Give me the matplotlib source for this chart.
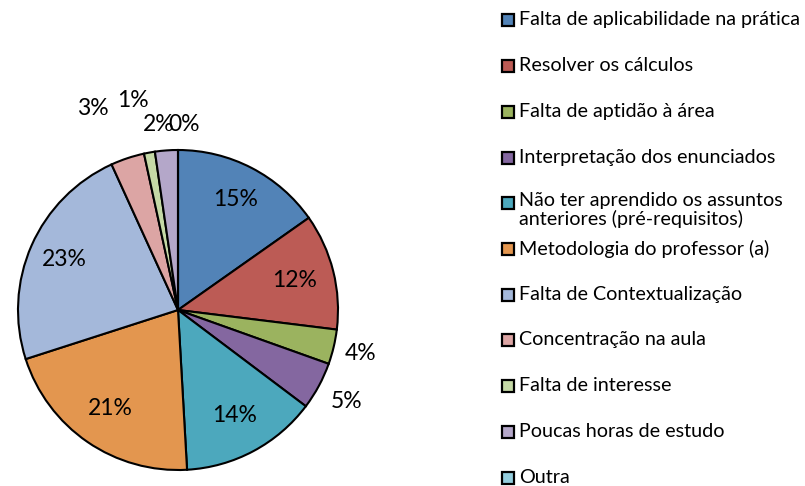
import matplotlib
matplotlib.use('Agg')
import matplotlib.pyplot as plt
from matplotlib.patches import Rectangle
import numpy as np

plt.rcParams['font.family'] = ['Lato', 'DejaVu Sans']

# data (percent of answers)
categories = ['Falta de aplicabilidade na prática',
              'Resolver os cálculos',
              'Falta de aptidão à área',
              'Interpretação dos enunciados',
              'Não ter aprendido os assuntos\nanteriores (pré-requisitos)',
              'Metodologia do professor (a)',
              'Falta de Contextualização',
              'Concentração na aula',
              'Falta de interesse',
              'Poucas horas de estudo',
              'Outra']
values = [15.2, 11.7, 3.5, 4.8, 13.8, 20.9, 23.1, 3.4, 1.1, 2.3, 0.0]
colors = ['#5283B7', '#BC5B55', '#9BB35F', '#8467A0', '#4CA8BD', '#E3964F',
          '#A4B8DA', '#DCA5A4', '#C5D9A6', '#B4A7C9', '#93CDDD']

# where the % labels sit, as a fraction of the radius (+ small x nudges)
label_dist = [0.78, 0.75, 1.17, 1.2, 0.75, 0.75, 0.78, 1.33, 1.33, 1.16, 1.16]
label_shift = [0, 0, 0, 0, 0, 0, 0, -18, -7, -6, 6]

W, H = 805, 486
fig = plt.figure(figsize=(W / 100, H / 100), dpi=100)
ax = fig.add_axes([0, 0, 1, 1])

cx, cy, r = 178, H - 310, 160
wedges, _ = ax.pie(values, startangle=90, counterclock=False, colors=colors,
                   center=(cx, cy), radius=r,
                   wedgeprops=dict(edgecolor='black', linewidth=1.5))

total = sum(values)
for w, v, d, s in zip(wedges, values, label_dist, label_shift):
    ang = np.deg2rad((w.theta1 + w.theta2) / 2)
    x = cx + d * r * np.cos(ang) + s
    y = cy + d * r * np.sin(ang)
    ax.text(x, y, '%.0f%%' % (100 * v / total), ha='center', va='center',
            fontsize=16.5, color='black')

# legend, drawn by hand like the Excel one
y0, step = 20, 45.7
for i, (c, lab) in enumerate(zip(colors, categories)):
    y = H - (y0 + i * step)
    ax.add_patch(Rectangle((502, y - 6.5), 12, 12, facecolor=c,
                           edgecolor='black', linewidth=1.6))
    va = 'top' if '\n' in lab else 'center'
    ax.text(519, y + (11 if va == 'top' else 0), lab, ha='left', va=va,
            fontsize=14.2, linespacing=1.05)

ax.set_xlim(0, W)
ax.set_ylim(0, H)
ax.axis('off')

fig.savefig('out.png', dpi=100)
